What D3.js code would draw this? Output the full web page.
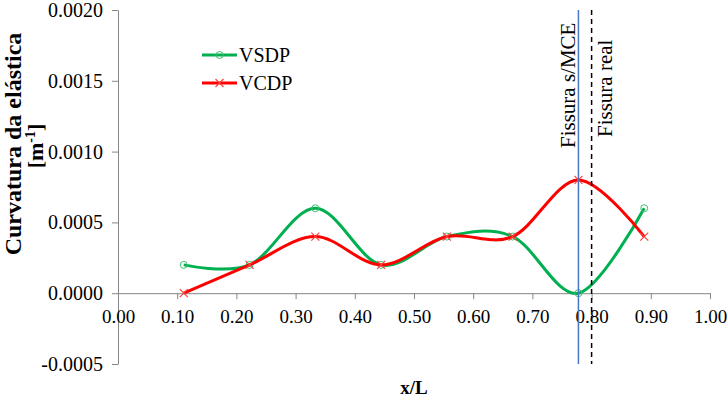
<!DOCTYPE html>
<html>
<head>
<meta charset="utf-8">
<script src="https://cdn.jsdelivr.net/npm/d3@7"></script>
<style>
  body { margin: 0; background: #fff; }
  svg { display: block; }
  .axis path, .axis line { stroke: #868686; }
</style>
</head>
<body>
<svg id="chart" width="727" height="397" font-family="Liberation Serif, serif"></svg>
<script>
// data
const xPos = [1/9, 2/9, 3/9, 4/9, 5/9, 6/9, 7/9, 8/9];
const vsdp = [0.0002, 0.0002, 0.0006, 0.0002, 0.0004, 0.0004, 0.0000, 0.0006];
const vcdp = [0.0000, 0.0002, 0.0004, 0.0002, 0.0004, 0.0004, 0.0008, 0.0004];
const xTicks = [0, 0.1, 0.2, 0.3, 0.4, 0.5, 0.6, 0.7, 0.8, 0.9, 1.0];
const yTicks = [-0.0005, 0, 0.0005, 0.0010, 0.0015, 0.0020];
const crackMCE = 7 / 9;   // Fissura s/MCE
const crackReal = 0.8;    // Fissura real

const FONT = "Liberation Serif, serif";
const TS = (x, y) => `translate(${[x, y]})`;

const svg = d3.select("#chart");
const M = { left: 118, right: 710, top: 10, bottom: 364 };

const x = d3.scaleLinear().domain([0, 1]).range([M.left, M.right]);
const y = d3.scaleLinear().domain([-0.0005, 0.002]).range([M.bottom, M.top]);
const fmtY = d => d3.format(".4f")(d).replace("\u2212", "-");

// y axis
svg.append("g")
    .attr("class", "axis")
    .attr("transform", TS(M.left, 0))
    .call(d3.axisLeft(y).tickValues(yTicks).tickFormat(fmtY)
        .tickSize(6).tickSizeOuter(0).tickPadding(9))
    .attr("font-family", FONT).attr("font-size", 20)
    .selectAll("text").attr("fill", "#000");

// x axis sits on y = 0
svg.append("g")
    .attr("class", "axis")
    .attr("transform", TS(0, y(0)))
    .call(d3.axisBottom(x).tickValues(xTicks).tickFormat(d3.format(".2f"))
        .tickSize(6).tickSizeOuter(0).tickPadding(10))
    .attr("font-family", FONT).attr("font-size", 19)
    .selectAll("text").attr("fill", "#000");

// series
const series = [
    { name: "VSDP", vals: vsdp, color: "#00b050", mark: "#3fbf6f", shape: "circle" },
    { name: "VCDP", vals: vcdp, color: "#ff0000", mark: "#ff4040", shape: "cross" }
];

const line = d3.line()
    .x((d, i) => x(xPos[i]))
    .y(d => y(d))
    .curve(d3.curveCardinal.tension(0));

function drawMarker(g, shape, color, cx, cy) {
    if (shape === "circle") {
        g.append("circle").attr("cx", cx).attr("cy", cy).attr("r", 3.5)
            .attr("fill", "none").attr("stroke", color).attr("stroke-width", 1);
    } else {
        const s = 4;
        g.append("path")
            .attr("d", `M${cx - s},${cy - s}L${cx + s},${cy + s}M${cx - s},${cy + s}L${cx + s},${cy - s}`)
            .attr("stroke", color).attr("stroke-width", 1.2);
    }
}

series.forEach(s => {
    const g = svg.append("g");
    g.append("path")
        .datum(s.vals)
        .attr("fill", "none")
        .attr("stroke", s.color)
        .attr("stroke-width", 3)
        .attr("d", line);
    s.vals.forEach((v, i) => drawMarker(g, s.shape, s.mark, x(xPos[i]), y(v)));
});

// crack lines
svg.append("line")
    .attr("x1", x(crackMCE)).attr("x2", x(crackMCE))
    .attr("y1", M.top).attr("y2", M.bottom)
    .attr("stroke", "#4a76c6").attr("stroke-width", 1.5);
svg.append("line")
    .attr("x1", x(crackReal)).attr("x2", x(crackReal))
    .attr("y1", M.top).attr("y2", M.bottom)
    .attr("stroke", "#000").attr("stroke-width", 1.5)
    .attr("stroke-dasharray", "5,4");

svg.append("text")
    .attr("transform", `translate(${x(crackMCE) - 3},148) rotate(-90)`)
    .attr("font-size", 21)
    .text("Fissura s/MCE");
svg.append("text")
    .attr("transform", `translate(${x(crackReal) + 20},137) rotate(-90)`)
    .attr("font-size", 21)
    .text("Fissura real");

// legend
const legend = svg.append("g").attr("transform", TS(202, 55));
series.forEach((s, i) => {
    const row = legend.append("g").attr("transform", TS(0, i * 28));
    row.append("line").attr("x1", 0).attr("x2", 35).attr("y1", 0).attr("y2", 0)
        .attr("stroke", s.color).attr("stroke-width", 3);
    drawMarker(row, s.shape, s.mark, 17.5, 0);
    row.append("text").attr("x", 37).attr("y", 0).attr("dy", "0.35em")
        .attr("font-size", 20).text(s.name);
});

// axis titles
const yTitle = svg.append("g").attr("transform", "rotate(-90)");
yTitle.append("text")
    .attr("x", -144).attr("y", 21)
    .attr("text-anchor", "middle")
    .attr("font-weight", "bold").attr("font-size", 24)
    .text("Curvatura da elástica");
const unit = yTitle.append("text")
    .attr("x", -146).attr("y", 43)
    .attr("text-anchor", "middle")
    .attr("font-weight", "bold").attr("font-size", 22);
unit.append("tspan").text("[m");
unit.append("tspan").attr("font-size", 14).attr("dy", -8).text("-1");
unit.append("tspan").attr("dy", 8).text("]");

svg.append("text")
    .attr("x", (M.left + M.right) / 2).attr("y", 394)
    .attr("text-anchor", "middle")
    .attr("font-weight", "bold").attr("font-size", 19)
    .text("x/L");
</script>
</body>
</html>
